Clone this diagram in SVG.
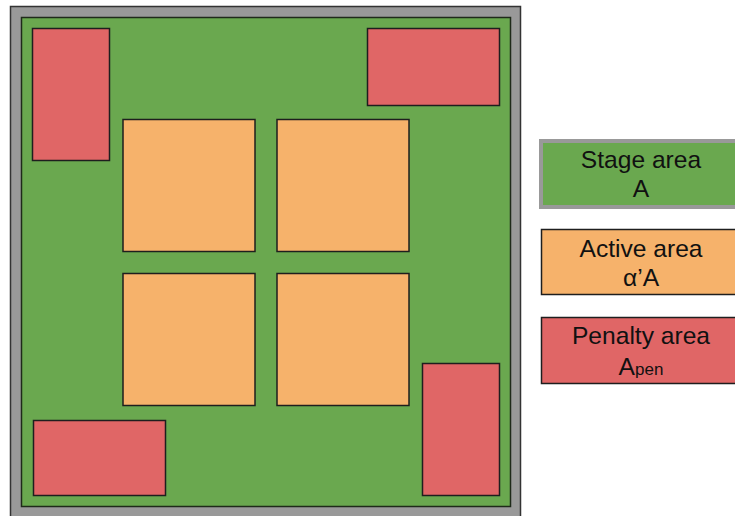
<svg xmlns="http://www.w3.org/2000/svg" width="735" height="516" viewBox="0 0 735 516">
<style>
.stage{fill:#999999;stroke:#333333;stroke-width:1.5}
.green{fill:#6aa84f;stroke:#1f2a1a;stroke-width:1.5}
.active{fill:#f6b26b;stroke:#1e1e1e;stroke-width:1.5}
.pen{fill:#e06666;stroke:#1e1e1e;stroke-width:1.5}
.lbl{font-family:"Liberation Sans",Arial,sans-serif;font-size:24.6px;fill:#111;text-anchor:middle}
</style>
<rect width="735" height="516" fill="#ffffff"/>
<g id="stage">
<rect class="stage" x="10.5" y="6.5" width="510" height="520"/>
<rect class="green" x="21.5" y="17.5" width="489" height="489"/>
</g>
<g id="penalty-tl"><rect class="pen" x="32.5" y="28.5" width="77" height="132"/></g>
<g id="penalty-tr"><rect class="pen" x="367.5" y="28.5" width="132" height="77"/></g>
<g id="penalty-br"><rect class="pen" x="422.5" y="363.5" width="77" height="132"/></g>
<g id="penalty-bl"><rect class="pen" x="33.5" y="420.5" width="132" height="75"/></g>
<g id="active-1"><rect class="active" x="123" y="119.5" width="132" height="132"/></g>
<g id="active-2"><rect class="active" x="277" y="119.5" width="132" height="132"/></g>
<g id="active-3"><rect class="active" x="123" y="273.5" width="132" height="132"/></g>
<g id="active-4"><rect class="active" x="277" y="273.5" width="132" height="132"/></g>
<g id="legend-stage">
<rect x="541" y="141" width="200" height="66" fill="#6aa84f" stroke="#999999" stroke-width="4"/>
<text class="lbl" x="641" y="168">Stage area</text>
<text class="lbl" x="641" y="197">A</text>
</g>
<g id="legend-active">
<rect class="active" x="541.5" y="229.5" width="200" height="65"/>
<text class="lbl" x="641" y="257">Active area</text>
<text class="lbl" x="641" y="286">α’A</text>
</g>
<g id="legend-penalty">
<rect class="pen" x="541.5" y="317.5" width="200" height="66"/>
<text class="lbl" x="641" y="344">Penalty area</text>
<text class="lbl" x="641" y="375">A<tspan font-size="17">pen</tspan></text>
</g>
<g id="connectors"/>
</svg>
